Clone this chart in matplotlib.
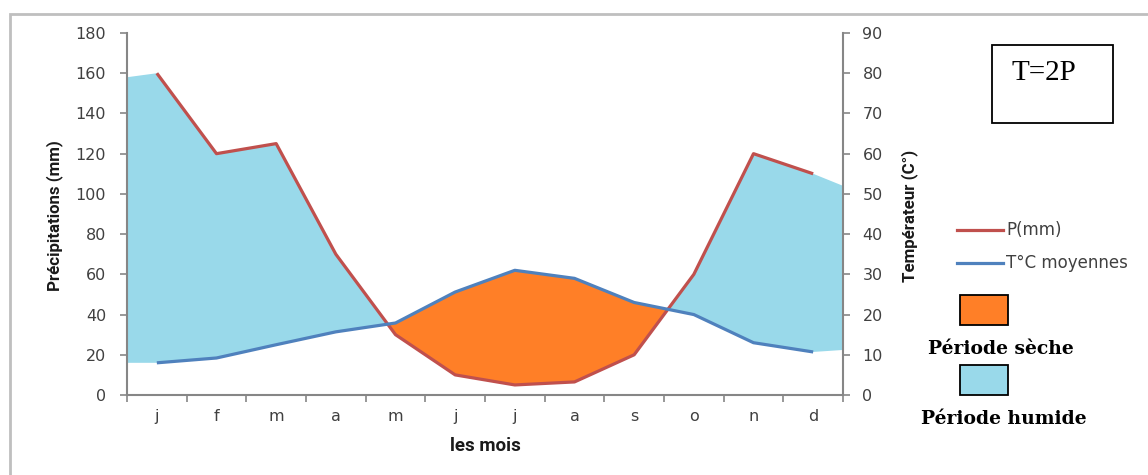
import numpy as np
import matplotlib
matplotlib.use("Agg")
import matplotlib.pyplot as plt
from matplotlib.patches import Rectangle
from matplotlib.lines import Line2D

months = ["j", "f", "m", "a", "m", "j", "j", "a", "s", "o", "n", "d"]
precip = [160, 120, 125, 70, 30, 10, 5, 6.5, 20, 60, 120, 110]
temp = [8, 9.2, 12.5, 15.7, 17.9, 25.6, 31, 29, 23, 20, 13, 10.7]
p_ticks = [0, 20, 40, 60, 80, 100, 120, 140, 160, 180]
t_ticks = [0, 10, 20, 30, 40, 50, 60, 70, 80, 90]

RED = "#C0504D"
BLUE = "#4F81BD"
ORANGE = "#FF7F27"
TURQ = "#99D9EA"
TXT = "#404040"

W, H = 1148, 475
fig = plt.figure(figsize=(W / 100, H / 100), dpi=100)

# outer frame
fig.patches.append(Rectangle((10 / W, -0.1), 1.2, 1 - 14 / H + 0.1, transform=fig.transFigure,
                             fill=False, edgecolor="#BFBFBF", linewidth=2, zorder=0))

ax = fig.add_axes([127 / W, 1 - 395 / H, (843 - 127) / W, (395 - 33) / H])
ax2 = ax.twinx()

x = np.arange(len(months))
P = np.array(precip, dtype=float)
T2 = 2 * np.array(temp, dtype=float)

# extend fills to axis edges
xf = np.concatenate([[-0.5], x, [len(months) - 0.5]])
Pf = np.concatenate([[P[0] - 2], P, [P[-1] - 6]])
Tf = np.concatenate([[T2[0]], T2, [T2[-1] + 1]])
xd = np.linspace(xf[0], xf[-1], 2000)
Pd = np.interp(xd, xf, Pf)
Td = np.interp(xd, xf, Tf)
ax.fill_between(xd, Pd, Td, where=Pd >= Td, color=TURQ, linewidth=0, zorder=1)
ax.fill_between(xd, Pd, Td, where=Pd <= Td, color=ORANGE, linewidth=0, zorder=1)

ax.plot(x, P, color=RED, linewidth=2.3, zorder=3, solid_capstyle="butt")
ax2.plot(x, temp, color=BLUE, linewidth=2.3, zorder=3, solid_capstyle="butt")

ax.set_xlim(-0.5, len(months) - 0.5)
ax.set_ylim(0, 180)
ax2.set_ylim(0, 90)
ax.set_yticks(p_ticks)
ax2.set_yticks(t_ticks)
ax.set_xticks(np.arange(len(months) + 1) - 0.5)
ax.set_xticklabels([])
ax.set_xticks(x, minor=True)
ax.set_xticklabels(months, minor=True)
ax.tick_params(axis="x", which="minor", length=0, pad=10, labelsize=11.5, labelcolor=TXT)
ax.tick_params(axis="x", which="major", length=5, direction="out", color="#868686", width=1.2)

for a in (ax, ax2):
    a.spines["top"].set_visible(False)
    a.set_facecolor("none")
ax.spines["right"].set_visible(False)
ax2.spines["left"].set_visible(False)
ax2.spines["bottom"].set_visible(False)
for sp in (ax.spines["left"], ax.spines["bottom"], ax2.spines["right"]):
    sp.set_color("#868686")
    sp.set_linewidth(1.5)

ax.tick_params(axis="y", length=5, direction="out", color="#868686", width=1.2,
               labelsize=11.5, labelcolor=TXT, pad=10)
ax2.tick_params(axis="y", length=5, direction="out", color="#868686", width=1.2,
                labelsize=11.5, labelcolor=TXT, pad=9)

lab_fam = ["Roboto", "DejaVu Sans"]
fig.text(55 / W, 1 - 216 / H, "Précipitations (mm)", rotation=90, ha="center", va="center",
         fontsize=12.2, fontweight="bold", family=lab_fam, color="#1a1a1a")
fig.text(910 / W, 1 - 216 / H, "Températeur (C°)", rotation=90, ha="center", va="center",
         fontsize=12.2, fontweight="bold", family=lab_fam, color="#1a1a1a")
fig.text(485 / W, 1 - 446 / H, "les mois", ha="center", va="center",
         fontsize=13.5, fontweight="bold", family=lab_fam, color="#1a1a1a")

# T=2P box
fig.patches.append(Rectangle((992 / W, 1 - 123 / H), 121 / W, 78 / H, transform=fig.transFigure,
                             fill=False, edgecolor="black", linewidth=1.3))
fig.text(1012 / W, 1 - 73 / H, "T=2P", ha="left", va="center", fontsize=21,
         family="Liberation Serif", color="black")

# legend lines
for yy, col, lab in [(230, RED, "P(mm)"), (263, BLUE, "T°C moyennes")]:
    fig.add_artist(Line2D([957 / W, 1003 / W], [1 - yy / H, 1 - yy / H], color=col,
                          linewidth=2.3, transform=fig.transFigure))
    fig.text(1006 / W, 1 - yy / H, lab, ha="left", va="center", fontsize=12,
             color=TXT)

fig.patches.append(Rectangle((960 / W, 1 - 325 / H), 48 / W, 30 / H, transform=fig.transFigure,
                             facecolor=ORANGE, edgecolor="black", linewidth=1.3))
fig.text(1001 / W, 1 - 349 / H, "Période sèche", ha="center", va="center", fontsize=13.5,
         fontweight="bold", family="DejaVu Serif", color="black")
fig.patches.append(Rectangle((960 / W, 1 - 395 / H), 48 / W, 30 / H, transform=fig.transFigure,
                             facecolor=TURQ, edgecolor="black", linewidth=1.3))
fig.text(1004 / W, 1 - 419 / H, "Période humide", ha="center", va="center", fontsize=13.5,
         fontweight="bold", family="DejaVu Serif", color="black")

fig.savefig("out.png", dpi=100)
